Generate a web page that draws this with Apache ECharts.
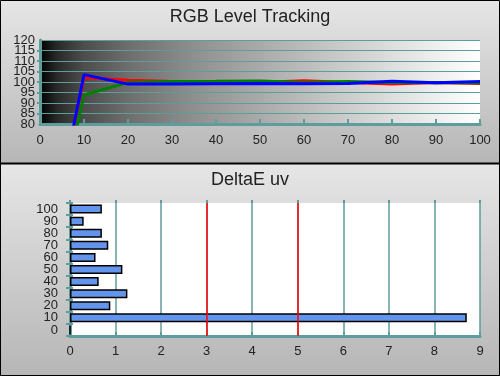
<!DOCTYPE html>
<html>
<head>
<meta charset="utf-8">
<script src="https://cdn.jsdelivr.net/npm/echarts@6/dist/echarts.min.js"></script>
<style>
html,body{margin:0;padding:0;background:#fff;}
#chart{width:500px;height:376px;}
</style>
</head>
<body>
<div id="chart"></div>
<script>
// ---- Data ----
const levels = [0, 10, 20, 30, 40, 50, 60, 70, 80, 90, 100];
const redVals = [0, 102.2, 100.8, 100.2, 100.0, 99.8, 100.6, 99.8, 99.0, 99.8, 99.3];
const greenVals = [0, 93.8, 99.8, 100.2, 100.3, 100.5, 99.8, 100.2, 99.8, 99.7, 99.6];
const blueVals = [0, 103.5, 99.0, 99.0, 99.2, 99.3, 99.2, 99.3, 100.3, 99.6, 100.2];

const deCategories = ['0', '10', '20', '30', '40', '50', '60', '70', '80', '90', '100'];
const deValues = [0, 8.71, 0.885, 1.26, 0.63, 1.15, 0.56, 0.84, 0.70, 0.30, 0.70];
const deLimits = [3, 5];

const title1 = 'RGB Level Tracking';
const title2 = 'DeltaE uv';

// ---- Styles ----
const teal = '#5f9c9c';
const font = "'Liberation Sans', Arial, sans-serif";
const labelColor = '#222';

function pairs(xs, ys) { return xs.map((x, i) => [x, ys[i]]); }

const panelGrad = {
  type: 'linear', x: 0, y: 0, x2: 0, y2: 1,
  colorStops: [{offset: 0, color: '#e6e6e6'}, {offset: 1, color: '#b6b6b6'}]
};

const chart = echarts.init(document.getElementById('chart'), null, {renderer: 'canvas'});
chart.setOption({
  animation: false,
  textStyle: {fontFamily: font},
  graphic: [
    {type: 'rect', z: -100, shape: {x: 0, y: 0, width: 500, height: 163}, style: {fill: panelGrad}, silent: true},
    {type: 'rect', z: -100, shape: {x: 0, y: 164, width: 500, height: 212}, style: {fill: panelGrad}, silent: true},
    {type: 'line', z: 100, shape: {x1: 0, y1: 163.5, x2: 500, y2: 163.5}, style: {stroke: '#000', lineWidth: 2}, silent: true},
    {type: 'rect', z: 100, shape: {x: 0.5, y: 0.5, width: 499, height: 375}, style: {fill: null, stroke: '#000', lineWidth: 1}, silent: true}
  ],
  title: [
    {text: title1, left: 'center', top: 3, textStyle: {fontSize: 18, fontWeight: 'normal', color: '#222', fontFamily: font}},
    {text: title2, left: 'center', top: 166, textStyle: {fontSize: 18, fontWeight: 'normal', color: '#222', fontFamily: font}}
  ],
  grid: [
    {left: 40, right: 20, top: 40, height: 84, show: true, borderWidth: 0,
     backgroundColor: {type: 'linear', x: 0, y: 0, x2: 1, y2: 0, colorStops: [
       {offset: 0, color: '#000000'}, {offset: 0.04, color: '#2a2a2a'}, {offset: 0.1, color: '#4d4d4d'},
       {offset: 0.2, color: '#6e6e6e'}, {offset: 0.35, color: '#8f8f8f'}, {offset: 0.5, color: '#aaaaaa'},
       {offset: 0.7, color: '#cdcdcd'}, {offset: 0.85, color: '#e6e6e6'}, {offset: 1, color: '#ffffff'}]}},
    {left: 70, right: 20, top: 203, height: 133, show: true, borderWidth: 0, backgroundColor: '#ffffff'}
  ],
  xAxis: [
    {type: 'value', gridIndex: 0, min: 0, max: 100, interval: 10,
     axisLine: {show: true, onZero: false, lineStyle: {color: teal, width: 3}},
     axisTick: {show: true, inside: true, length: 5, lineStyle: {color: teal, width: 2}},
     axisLabel: {margin: 10, fontSize: 13, color: labelColor, fontFamily: font, showMinLabel: true, showMaxLabel: true},
     splitLine: {show: false}},
    {type: 'value', gridIndex: 1, min: 0, max: 9, interval: 1,
     axisLine: {show: true, onZero: false, lineStyle: {color: teal, width: 3}},
     axisTick: {show: true, inside: true, length: 4, lineStyle: {color: teal, width: 2}},
     axisLabel: {margin: 9, fontSize: 13, color: labelColor, fontFamily: font, showMinLabel: true, showMaxLabel: true},
     splitLine: {show: true, lineStyle: {color: teal, width: 1.5}}},
    {type: 'value', gridIndex: 1, min: 0, max: 9, interval: 1,
     axisLine: {show: false}, axisLabel: {show: false}, splitLine: {show: false},
     axisTick: {show: true, inside: false, length: 3, lineStyle: {color: teal, width: 2}}}
  ],
  yAxis: [
    {type: 'value', gridIndex: 0, position: 'left', offset: 0, min: 80, max: 120, interval: 5,
     axisLine: {show: true, onZero: false, lineStyle: {color: teal, width: 3}},
     axisTick: {show: true, length: 3, lineStyle: {color: teal, width: 2}},
     axisLabel: {margin: 5, fontSize: 13, color: labelColor, fontFamily: font,
                 showMinLabel: false, showMaxLabel: false},
     splitLine: {show: true, showMinLine: true, showMaxLine: true, lineStyle: {color: teal, width: 1.2}}},
    {type: 'category', gridIndex: 1, data: deCategories,
     axisLine: {show: true, onZero: false, lineStyle: {color: teal, width: 3}},
     axisTick: {show: true, length: 4, interval: 0, lineStyle: {color: teal, width: 2}},
     axisLabel: {margin: 12, fontSize: 13, color: labelColor, fontFamily: font, lineHeight: 11, interval: 0, hideOverlap: false},
     splitLine: {show: false}},
    {type: 'category', gridIndex: 1, position: 'left', offset: 0, data: deCategories,
     axisLine: {show: false}, axisLabel: {show: false}, splitLine: {show: false},
     axisTick: {show: true, inside: true, length: 3, interval: 0, lineStyle: {color: teal, width: 2}}},
    {type: 'value', gridIndex: 0, position: 'left', offset: 0, min: 80, max: 120, interval: 40,
     axisLine: {show: false, onZero: false}, axisTick: {show: false}, splitLine: {show: false},
     axisLabel: {margin: 5, fontSize: 13, color: labelColor, fontFamily: font, showMinLabel: true, showMaxLabel: true}}
  ],
  series: [
    {type: 'line', xAxisIndex: 0, yAxisIndex: 0, data: pairs(levels, redVals), showSymbol: false, clip: true,
     lineStyle: {color: '#ff0000', width: 3}, z: 3},
    {type: 'line', xAxisIndex: 0, yAxisIndex: 0, data: pairs(levels, greenVals), showSymbol: false, clip: true,
     lineStyle: {color: '#008000', width: 3}, z: 4},
    {type: 'line', xAxisIndex: 0, yAxisIndex: 0, data: pairs(levels, blueVals), showSymbol: false, clip: true,
     lineStyle: {color: '#0000ff', width: 3}, z: 5},
    {type: 'bar', xAxisIndex: 1, yAxisIndex: 1, data: deValues, barWidth: 9,
     itemStyle: {color: '#6495ed', borderColor: '#000', borderWidth: 1.5},
     markLine: {silent: true, symbol: ['none', 'none'], label: {show: false},
       lineStyle: {color: '#ff0000', width: 1.5, type: 'solid'},
       data: deLimits.map(v => ({xAxis: v}))}}
  ]
});
</script>
</body>
</html>
